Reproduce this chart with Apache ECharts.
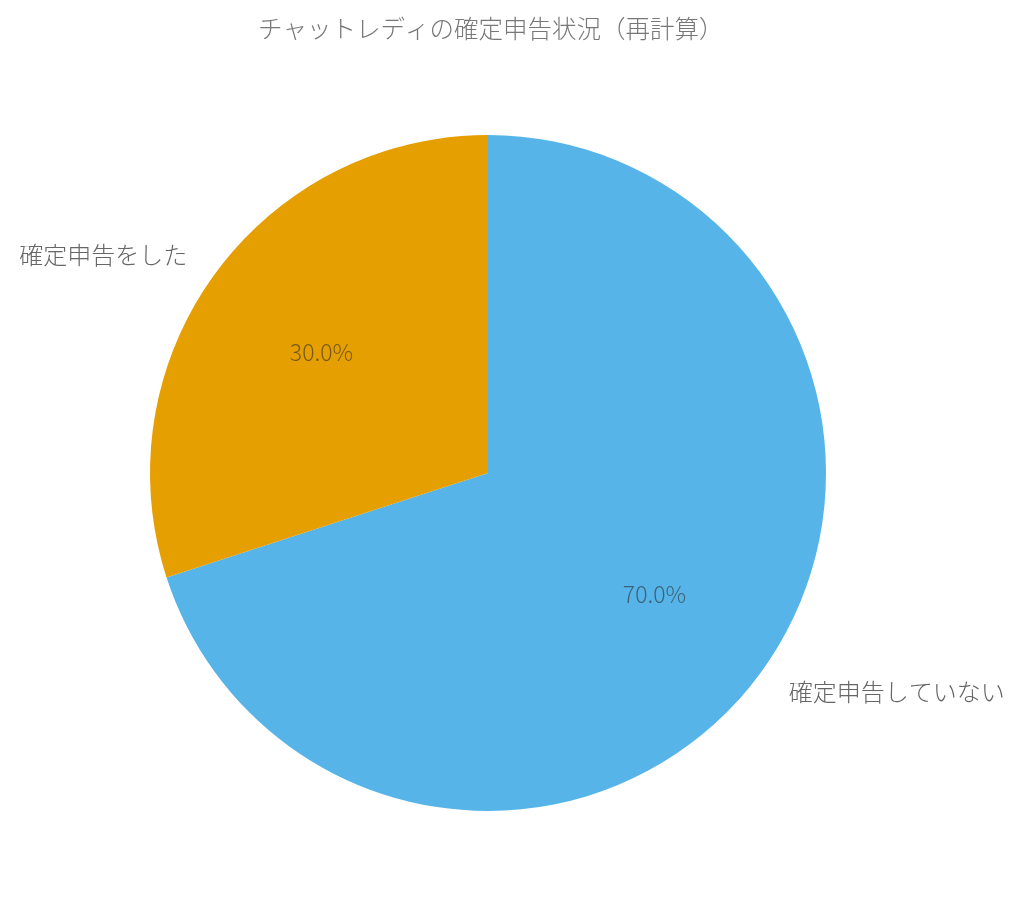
<!DOCTYPE html>
<html><head><meta charset="utf-8">
<script src="https://cdn.jsdelivr.net/npm/echarts@6/dist/echarts.min.js"></script>
<style>html,body{margin:0;padding:0;background:#fff}#c{width:1024px;height:914px}</style>
</head><body><div id="c"></div>
<script>
const titleText = 'チャットレディの確定申告状況（再計算）';
const categories = ['確定申告していない', '確定申告をした'];
const values = [70, 30];
const colors = ['#56B4E9', '#E69F00'];

const FONT = '"Noto Sans CJK JP", "Noto Sans", sans-serif';
const data = categories.map((c, i) => ({ name: c, value: values[i] }));
const total = values.reduce((a, b) => a + b, 0);
const R = 338;
const C = [488, 473];

const chart = echarts.init(document.getElementById('c'), null, { renderer: 'canvas' });
chart.setOption({
  animation: false,
  title: {
    text: titleText, left: 253, top: 11,
    textStyle: { fontFamily: FONT, fontSize: 24.5, fontWeight: 300, color: '#777' }
  },
  color: colors,
  series: [
    {
      type: 'pie', center: C, radius: [0, R], startAngle: 90, clockwise: true,
      avoidLabelOverlap: false, silent: true,
      data: data,
      itemStyle: { borderWidth: 0 },
      label: {
        show: true, position: 'outside', distanceToLabelLine: 0,
        fontFamily: FONT, fontSize: 24, fontWeight: 300, color: '#666',
        formatter: '{b}'
      },
      labelLine: { show: false, length: R * 0.1, length2: 0 },
      emphasis: { disabled: true }
    },
    {
      type: 'pie', center: C, radius: [0, R * 1.2], startAngle: 90, clockwise: true,
      avoidLabelOverlap: false, silent: true, z: 5,
      data: data,
      itemStyle: { color: 'rgba(0,0,0,0)', borderWidth: 0 },
      label: {
        show: true, position: 'inside',
        fontFamily: FONT, fontSize: 23, fontWeight: 300, color: 'rgba(45,45,45,0.6)',
        formatter: p => (p.value / total * 100).toFixed(1) + '%'
      },
      labelLine: { show: false },
      emphasis: { disabled: true }
    }
  ]
});
</script></body></html>
